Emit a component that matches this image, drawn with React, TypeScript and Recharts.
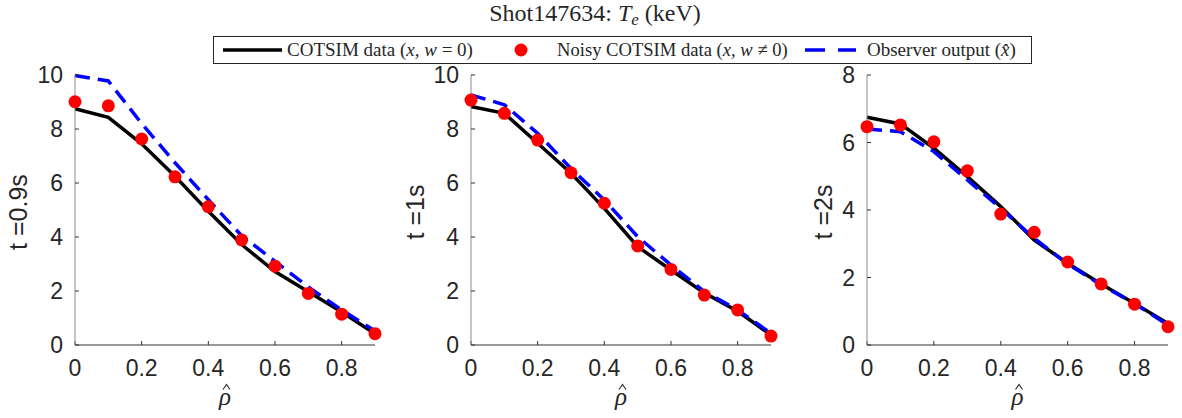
import React from 'react';
import { ComposedChart, Line, XAxis, YAxis, Label } from 'recharts';

const rho = [0, 0.1, 0.2, 0.3, 0.4, 0.5, 0.6, 0.7, 0.8, 0.9];

const cotsim09 = [8.75, 8.43, 7.45, 6.25, 4.95, 3.72, 2.72, 1.97, 1.22, 0.42];
const noisy09 = [9.01, 8.86, 7.63, 6.23, 5.12, 3.89, 2.92, 1.91, 1.14, 0.42];
const observer09 = [9.98, 9.78, 8.2, 6.75, 5.38, 4.05, 3.1, 2.15, 1.3, 0.52];

const cotsim1 = [8.83, 8.58, 7.47, 6.36, 5.06, 3.64, 2.78, 1.93, 1.25, 0.37];
const noisy1 = [9.07, 8.58, 7.59, 6.38, 5.25, 3.67, 2.8, 1.85, 1.3, 0.33];
const observer1 = [9.26, 8.9, 7.84, 6.54, 5.37, 4.01, 2.96, 1.98, 1.3, 0.43];

const cotsim2 = [6.75, 6.55, 5.83, 4.99, 4.1, 3.11, 2.42, 1.81, 1.23, 0.64];
const noisy2 = [6.47, 6.52, 6.02, 5.16, 3.88, 3.34, 2.46, 1.81, 1.21, 0.54];
const observer2 = [6.4, 6.32, 5.73, 4.89, 4.05, 3.16, 2.4, 1.78, 1.23, 0.59];

const xTicks = [0, 0.2, 0.4, 0.6, 0.8];
const yTicks10 = [0, 2, 4, 6, 8, 10];
const yTicks8 = [0, 2, 4, 6, 8];

const panelLabels = ['t =0.9s', 't =1s', 't =2s'];
const titleText = 'Shot147634: ';
const legendLabels = ['COTSIM data (', 'Noisy COTSIM data (', 'Observer output ('];

const build = (c: number[], n: number[], o: number[]) =>
  rho.map((r, i) => ({ rho: r, cotsim: c[i], noisy: n[i], observer: o[i] }));

const SANS = '"Liberation Sans", Arial, Helvetica, sans-serif';
const SERIF = '"Liberation Serif", "Times New Roman", serif';
const TXT = '#262626';

type PanelProps = {
  left: number;
  plotWidth: number;
  data: any[];
  yMax: number;
  yTicks: number[];
  label: string;
  labelX: number;
};

const YAXW = 70;
const PLOT_TOP = 75;
const PLOT_BOTTOM = 345;
const H = 418;

function Panel({ left, plotWidth, data, yMax, yTicks, label, labelX }: PanelProps) {
  const rightM = 14;
  const width = YAXW + plotWidth + rightM;
  return (
    <div style={{ position: 'absolute', left: left - YAXW, top: 0, width, height: H }}>
      <ComposedChart
        width={width}
        height={H}
        data={data}
        margin={{ top: PLOT_TOP, right: rightM, bottom: 0, left: 0 }}
      >
        <XAxis
          dataKey="rho"
          type="number"
          domain={[0, 0.9]}
          ticks={xTicks}
          height={H - PLOT_BOTTOM}
          axisLine={{ stroke: '#333333', strokeWidth: 1 }}
          tickLine={{ stroke: '#333333' }}
          tickSize={-4}
          tickMargin={19}
          tick={{ fontSize: 23, fill: TXT, fontFamily: SANS }}
        >
          <Label
            content={({ viewBox }: any) => {
              const cx = viewBox.x + viewBox.width / 2;
              return (
                <g>
                  <text x={cx} y={405} textAnchor="middle" fontFamily={SERIF} fontStyle="italic" fontSize={25} fill={TXT}>
                    ρ
                  </text>
                  <polyline
                    points={`${cx - 2},${389.5} ${cx + 1.5},${384.5} ${cx + 5},${389.5}`}
                    fill="none"
                    stroke={TXT}
                    strokeWidth={1.1}
                  />
                </g>
              );
            }}
          />
        </XAxis>
        <YAxis
          type="number"
          domain={[0, yMax]}
          ticks={yTicks}
          width={YAXW}
          axisLine={{ stroke: '#8c8c8c', strokeWidth: 1 }}
          tickLine={{ stroke: '#333333' }}
          tickSize={-4}
          tickMargin={16}
          tick={{ fontSize: 23, fill: TXT, fontFamily: SANS }}
        >
          <Label
            content={() => (
              <text
                x={labelX}
                y={212}
                transform={`rotate(-90 ${labelX} 212)`}
                textAnchor="middle"
                dominantBaseline="central"
                fontFamily={SANS}
                fontSize={25}
                fill={TXT}
              >
                {label}
              </text>
            )}
          />
        </YAxis>
        <Line
          dataKey="cotsim"
          stroke="#000000"
          strokeWidth={3.5}
          dot={false}
          activeDot={false}
          isAnimationActive={false}
        />
        <Line
          dataKey="noisy"
          stroke="none"
          strokeWidth={0}
          dot={{ r: 6.5, fill: '#ff0000', stroke: 'none' }}
          activeDot={false}
          isAnimationActive={false}
        />
        <Line
          dataKey="observer"
          stroke="#0000ff"
          strokeWidth={3.5}
          strokeDasharray="15 8"
          dot={false}
          activeDot={false}
          isAnimationActive={false}
        />
      </ComposedChart>
    </div>
  );
}

function Overlay() {
  return (
    <svg
      width={1182}
      height={70}
      style={{ position: 'absolute', left: 0, top: 0, pointerEvents: 'none' }}
    >
      <text x={595} y={21} textAnchor="middle" fontFamily={SERIF} fontSize={24} fill={TXT}>
        {titleText}
        <tspan fontStyle="italic">T</tspan>
        <tspan fontStyle="italic" fontSize={17} dy={4}>e</tspan>
        <tspan dy={-4}> (keV)</tspan>
      </text>
      <rect x={213.5} y={36.5} width={818} height={27} fill="#ffffff" stroke={TXT} strokeWidth={1} />
      <line x1={223} y1={50} x2={282} y2={50} stroke="#000000" strokeWidth={3.5} />
      <text x={287} y={56} fontFamily={SERIF} fontSize={19} fill={TXT}>
        {legendLabels[0]}
        <tspan fontStyle="italic">x, w</tspan>
        {' = 0)'}
      </text>
      <circle cx={521} cy={50} r={6.5} fill="#ff0000" />
      <text x={557} y={56} fontFamily={SERIF} fontSize={18.6} fill={TXT}>
        {legendLabels[1]}
        <tspan fontStyle="italic">x, w</tspan>
        {' ≠ 0)'}
      </text>
      <line x1={805} y1={50} x2={856} y2={50} stroke="#0000ff" strokeWidth={3.5} strokeDasharray="20 13" />
      <text x={867} y={56} fontFamily={SERIF} fontSize={19} fill={TXT}>
        {legendLabels[2]}
        <tspan fontStyle="italic">x̂</tspan>
        {')'}
      </text>
    </svg>
  );
}

export default function App() {
  return (
    <div style={{ position: 'absolute', left: 0, top: 0, width: 1182, height: 418, background: '#ffffff', overflow: 'hidden' }}>
      <Panel left={75} plotWidth={300} data={build(cotsim09, noisy09, observer09)} yMax={10} yTicks={yTicks10} label={panelLabels[0]} labelX={13} />
      <Panel left={471} plotWidth={300} data={build(cotsim1, noisy1, observer1)} yMax={10} yTicks={yTicks10} label={panelLabels[1]} labelX={14} />
      <Panel left={867} plotWidth={301} data={build(cotsim2, noisy2, observer2)} yMax={8} yTicks={yTicks8} label={panelLabels[2]} labelX={26} />
      <Overlay />
    </div>
  );
}
